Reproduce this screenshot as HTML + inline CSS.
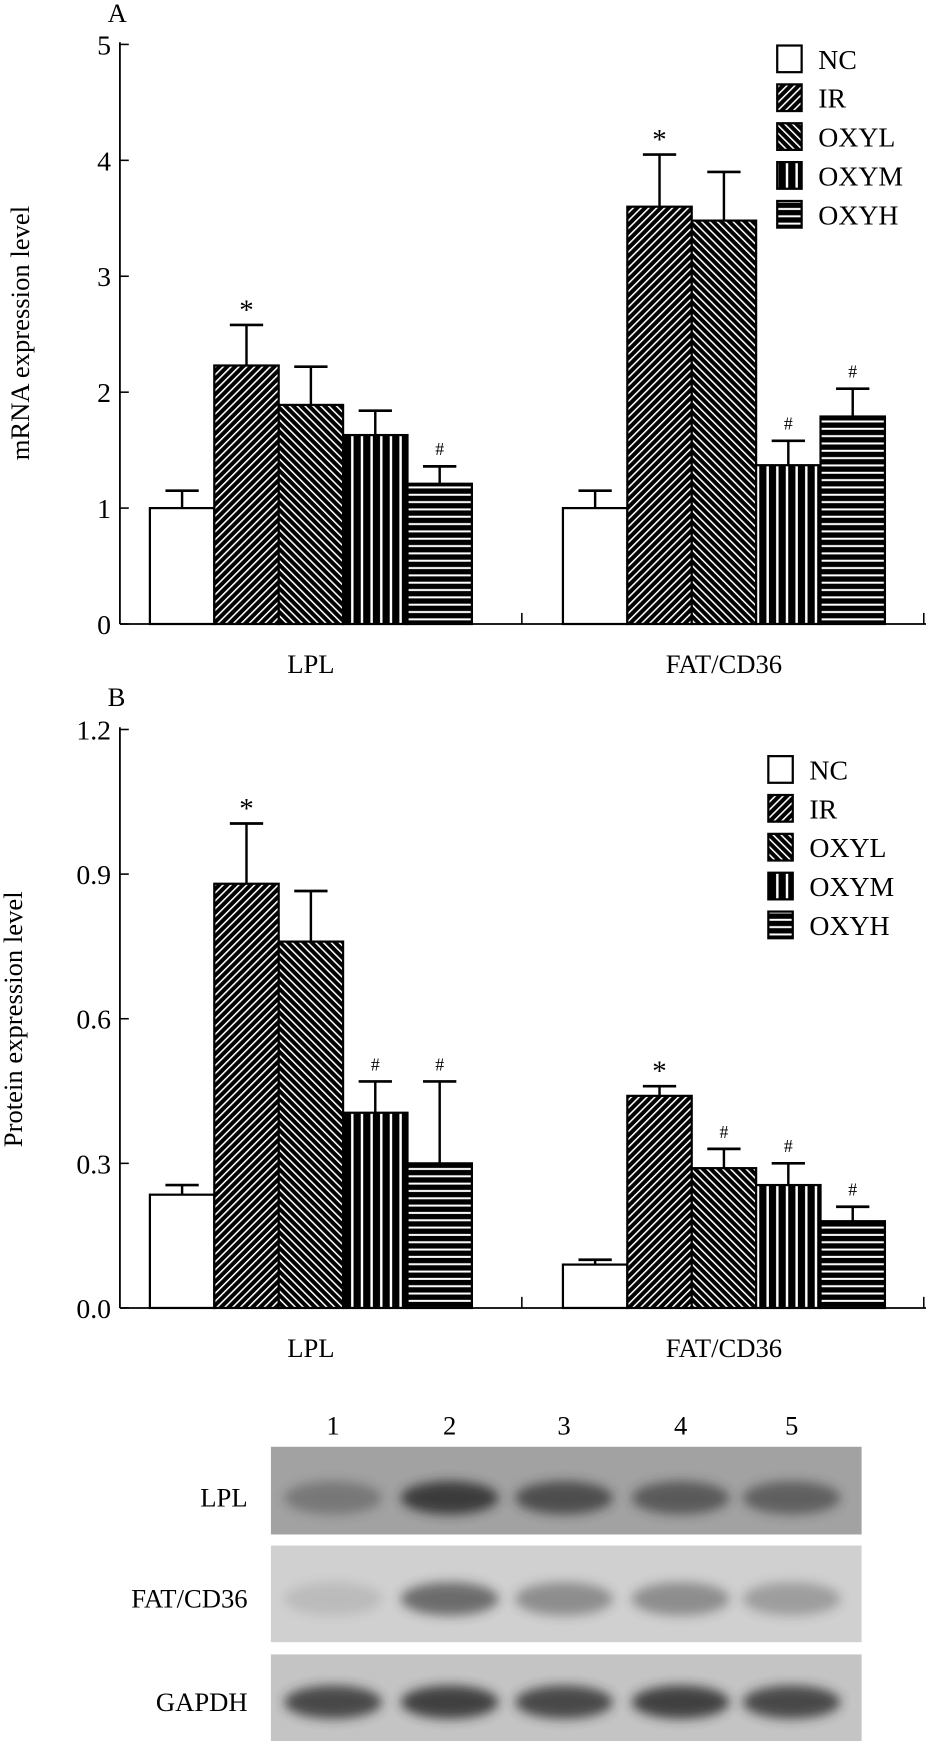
<!DOCTYPE html>
<html><head><meta charset="utf-8"><style>
html,body{margin:0;padding:0;background:#fff;}
svg{display:block;font-family:"Liberation Serif",serif;}
</style></head><body>
<svg id="fig" width="926" height="1741" viewBox="0 0 834 1568" preserveAspectRatio="none" xmlns="http://www.w3.org/2000/svg">
<defs>
<pattern id="p-ir" patternUnits="userSpaceOnUse" width="5" height="5" patternTransform="rotate(45)"><rect width="5" height="5" fill="#000"/><rect x="0" y="0" width="1.4" height="5" fill="#fff"/></pattern>
<pattern id="p-oxyl" patternUnits="userSpaceOnUse" width="5" height="5" patternTransform="rotate(-45)"><rect width="5" height="5" fill="#000"/><rect x="0" y="0" width="1.4" height="5" fill="#fff"/></pattern>
<pattern id="p-oxym" patternUnits="userSpaceOnUse" width="8.7" height="8"><rect width="8.7" height="8" fill="#000"/><rect x="3" y="0" width="2.2" height="8" fill="#fff"/></pattern>
<pattern id="p-oxyh" patternUnits="userSpaceOnUse" width="8" height="6.6"><rect width="8" height="6.6" fill="#000"/><rect x="0" y="2.5" width="8" height="1.8" fill="#fff"/></pattern>
<filter id="blur" x="-30%" y="-60%" width="160%" height="220%"><feGaussianBlur stdDeviation="5"/></filter>
</defs>
<g id="chartA"></g>
<g id="chartB"></g>
<g id="blot"></g>
</svg>
<script>
const groups = ["LPL", "FAT/CD36"];
const seriesNames = ["NC", "IR", "OXYL", "OXYM", "OXYH"];
const mrnaLPL = [1.0, 2.23, 1.89, 1.63, 1.21];
const mrnaLPLErr = [0.15, 0.35, 0.33, 0.21, 0.15];
const mrnaFAT = [1.0, 3.6, 3.48, 1.37, 1.79];
const mrnaFATErr = [0.15, 0.45, 0.42, 0.21, 0.24];
const mrnaMarksLPL = ["", "*", "", "", "#"];
const mrnaMarksFAT = ["", "*", "", "#", "#"];
const mrnaTicks = [0, 1, 2, 3, 4, 5];
const protLPL = [0.235, 0.88, 0.76, 0.405, 0.30];
const protLPLErr = [0.02, 0.125, 0.105, 0.065, 0.17];
const protFAT = [0.09, 0.44, 0.29, 0.255, 0.18];
const protFATErr = [0.01, 0.02, 0.04, 0.045, 0.03];
const protMarksLPL = ["", "*", "", "#", "#"];
const protMarksFAT = ["", "*", "#", "#", "#"];
const protTicks = [0, 0.3, 0.6, 0.9, 1.2];
const lanes = ["1", "2", "3", "4", "5"];
const bandLPL = [0.35, 0.85, 0.7, 0.6, 0.55];
const bandFAT = [0.12, 0.6, 0.4, 0.4, 0.3];
const bandGAPDH = [0.8, 0.85, 0.8, 0.85, 0.8];

const NS = "http://www.w3.org/2000/svg";
const fills = ["#fff", "url(#p-ir)", "url(#p-oxyl)", "url(#p-oxym)", "url(#p-oxyh)"];
function mk(parent, tag, attrs, text) {
  const e = document.createElementNS(NS, tag);
  for (const k in attrs) e.setAttribute(k, attrs[k]);
  if (text !== undefined) e.textContent = text;
  parent.appendChild(e);
  return e;
}

function drawChart(g, cfg) {
  const x0 = 108, x1 = 834;
  const y = v => cfg.yBase - v / cfg.yMax * (cfg.yBase - cfg.yTop);
  let t = mk(g, "text", {x: 97, y: cfg.letterY, "font-size": 24}, cfg.letter);
  
  
  let ax = mk(g, "line", {x1: x0, y1: cfg.yTop - 2, x2: x0, y2: cfg.yBase, stroke: "#000", "stroke-width": 1.6});
  
  
  let xa = mk(g, "line", {x1: x0, y1: cfg.yBase, x2: x1, y2: cfg.yBase, stroke: "#000", "stroke-width": 1.6});
  
  
  [470, 832].forEach(xx => mk(g, "line", {x1: xx, y1: cfg.yBase, x2: xx, y2: cfg.yBase - 10, stroke: "#000", "stroke-width": 1.4}));
  cfg.ticks.forEach(v => {
    mk(g, "line", {x1: x0, y1: y(v), x2: x0 + 8, y2: y(v), stroke: "#000", "stroke-width": 1.4});
    let tl = mk(g, "text", {x: x0 - 8, y: y(v) + 9, "font-size": 25, "text-anchor": "end"}, cfg.fmt(v));
    
    
  });
  let yt = mk(g, "text", {x: 0, y: 0, "font-size": 24, "text-anchor": "middle", transform: `translate(${cfg.titleX},${cfg.titleY}) rotate(-90)`}, cfg.title);
  
  
  const starts = [135, 507], bw = 58;
  cfg.data.forEach((vals, gi) => {
    vals.forEach((v, i) => {
      const bx = starts[gi] + i * bw;
      const top = y(v), et = y(v + cfg.err[gi][i]);
      const cx = bx + bw / 2;
      let eb = mk(g, "line", {x1: cx, y1: top, x2: cx, y2: et, stroke: "#000", "stroke-width": 2.2});
      
      
      mk(g, "line", {x1: cx - 15, y1: et, x2: cx + 15, y2: et, stroke: "#000", "stroke-width": 2.4});
      let r = mk(g, "rect", {x: bx, y: top, width: bw, height: cfg.yBase - top, fill: fills[i], stroke: "#000", "stroke-width": 2});
      
      
      const m = cfg.marks[gi][i];
      if (m) {
        let mt = mk(g, "text", {x: cx, y: et - (m === "*" ? 5 : 10), "font-size": m === "*" ? 26 : 16, "text-anchor": "middle"}, m);
        
        
      }
    });
    let gl = mk(g, "text", {x: starts[gi] + bw * 2.5, y: cfg.yBase + 44, "font-size": 24, "text-anchor": "middle"}, groups[gi]);
    
    
  });
  seriesNames.forEach((n, i) => {
    const ly = cfg.legY + i * 35;
    let lb = mk(g, "rect", {x: cfg.legX, y: ly - 11, width: 22, height: 24, fill: fills[i], stroke: "#000", "stroke-width": 2});
    
    
    let lt = mk(g, "text", {x: cfg.legX + 37, y: ly + 10, "font-size": 25}, n);
    
    
  });
}

drawChart(document.getElementById("chartA"), {
  letter: "A", letterY: 20, yTop: 40, yBase: 562, yMax: 5, ticks: mrnaTicks, fmt: v => String(v),
  title: "mRNA expression level", titleX: 26, titleY: 300,
  data: [mrnaLPL, mrnaFAT], err: [mrnaLPLErr, mrnaFATErr], marks: [mrnaMarksLPL, mrnaMarksFAT],
  legX: 700, legY: 52
});
drawChart(document.getElementById("chartB"), {
  letter: "B", letterY: 636, yTop: 657, yBase: 1178, yMax: 1.2, ticks: protTicks, fmt: v => v.toFixed(1),
  title: "Protein expression level", titleX: 20, titleY: 918,
  data: [protLPL, protFAT], err: [protLPLErr, protFATErr], marks: [protMarksLPL, protMarksFAT],
  legX: 692, legY: 692
});

const bg = document.getElementById("blot");
const laneX = [300, 405, 508, 613, 713];
lanes.forEach((l, i) => {
  let t = mk(bg, "text", {x: laneX[i], y: 1292, "font-size": 24, "text-anchor": "middle"}, l);
  
  
});
const rows = [
  {name: "LPL", y: 1303, h: 79, bg: "#a2a2a2", bands: bandLPL, by: 1349},
  {name: "FAT/CD36", y: 1392, h: 87, bg: "#d0d0d0", bands: bandFAT, by: 1440},
  {name: "GAPDH", y: 1490, h: 78, bg: "#c4c4c4", bands: bandGAPDH, by: 1533}
];
rows.forEach(r => {
  let rect = mk(bg, "rect", {x: 244, y: r.y, width: 532, height: r.h, fill: r.bg});
  
  
  r.bands.forEach((b, i) => {
    let e = mk(bg, "ellipse", {cx: laneX[i], cy: r.by, rx: 44, ry: 15, fill: "#2a2a2a", opacity: b, filter: "url(#blur)"});
    
    
  });
  let lt = mk(bg, "text", {x: 223, y: r.by + 8, "font-size": 24, "text-anchor": "end"}, r.name);
  
  
});
</script>
</body></html>
